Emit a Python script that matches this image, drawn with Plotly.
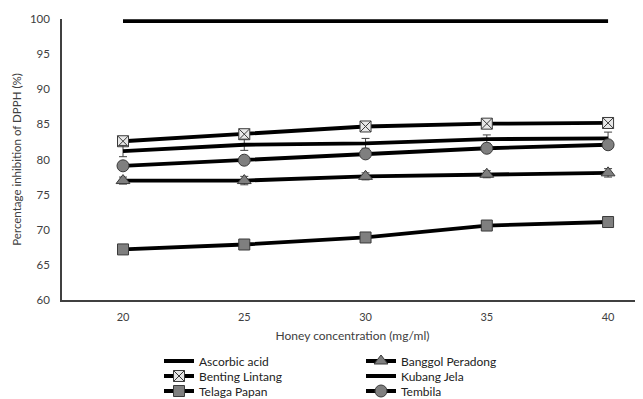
import plotly.graph_objects as go

concentration = [20, 25, 30, 35, 40]
ascorbic_acid = [99.7, 99.7, 99.7, 99.7, 99.7]
banggol_peradong = [77.0, 77.0, 77.6, 77.9, 78.1]
benting_lintang = [82.6, 83.6, 84.7, 85.1, 85.2]
kubang_jela = [81.2, 82.1, 82.3, 82.9, 83.0]
telaga_papan = [67.2, 67.9, 68.9, 70.6, 71.1]
tembila = [79.1, 79.9, 80.8, 81.6, 82.1]

banggol_err = [0.5, 0.6, 0.5, 0.5, 0.6]
benting_err = [0.5, 0.6, 0.4, 0.4, 0.5]
kubang_err = [0.8, 0.8, 0.7, 0.6, 0.9]
tembila_err = [0.3, 0.3, 0.3, 0.3, 0.3]

y_ticks = [60, 65, 70, 75, 80, 85, 90, 95, 100]

FONT = "Lato, 'Liberation Sans', sans-serif"
LW = 3.8
fill = "#7f7f7f"
edge = "#3a3a3a"
W, H = 635, 391  # page body has an 8px margin

fig = go.Figure()

def add(name, y, legend, err=None, symbol=None, mcolor=fill, size=11):
    kw = dict(x=concentration, y=y, name=name, legend=legend,
              line=dict(color="black", width=LW))
    if symbol:
        kw["mode"] = "lines+markers"
        kw["marker"] = dict(symbol=symbol, size=size, color=mcolor,
                            line=dict(color=edge, width=1))
    else:
        kw["mode"] = "lines"
    if err:
        kw["error_y"] = dict(type="data", array=err, visible=True,
                             color="#404040", thickness=1, width=4)
    fig.add_trace(go.Scatter(**kw))

add("Ascorbic acid", ascorbic_acid, "legend")
add("Banggol Peradong", banggol_peradong, "legend", banggol_err, "triangle-up", size=12)
add("Benting Lintang", benting_lintang, "legend2", benting_err, "square-x", mcolor="#e8e8e8", size=11)
add("Kubang Jela", kubang_jela, "legend2", kubang_err)
add("Telaga Papan", telaga_papan, "legend3", None, "square", size=11)
add("Tembila", tembila, "legend3", tembila_err, "circle", size=12)

def leg(ypx):
    return dict(orientation="h", xref="container", yref="container",
                x=(159 - 8) / W, y=1 - (ypx - 8) / H, xanchor="left", yanchor="middle",
                entrywidth=157, traceorder="normal", bgcolor="rgba(0,0,0,0)",
                font=dict(size=12, color="#222"), itemwidth=30,
                tracegroupgap=0)

fig.update_layout(
    width=W, height=H,
    margin=dict(l=54, r=0, t=11, b=99, autoexpand=False),
    paper_bgcolor="white", plot_bgcolor="white",
    font=dict(family=FONT, size=11, color="#404040"),
    xaxis=dict(range=[17.485, 41.44], tickvals=concentration,
               showgrid=False, zeroline=False, showline=True,
               linecolor="#404040", linewidth=1.5, ticks="",
               ticklabelstandoff=6,
               tickfont=dict(size=11, color="#404040"),
               title=dict(text="Honey concentration (mg/ml)", standoff=10,
                          font=dict(size=12, color="#404040"))),
    yaxis=dict(range=[60, 100], tickvals=y_ticks,
               showgrid=False, zeroline=False, showline=True,
               linecolor="#404040", linewidth=1.5, ticks="",
               ticklabelstandoff=8,
               tickfont=dict(size=11.5, color="#404040"),
               title=dict(text="Percentage inhibition of DPPH (%)", standoff=6,
                          font=dict(size=11.5, color="#404040"))),
    legend=leg(361),
    legend2=leg(376),
    legend3=leg(391),
    showlegend=True,
)

fig.write_html("out.html")
